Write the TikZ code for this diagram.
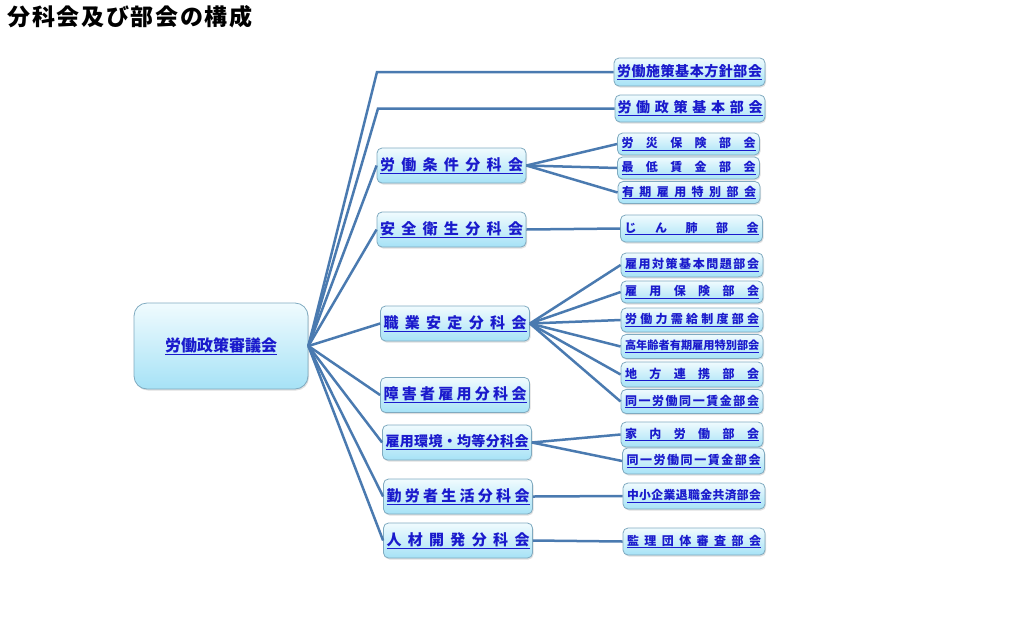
\documentclass[tikz,border=0pt]{standalone}
\usepackage{fontspec}
\setmainfont{Noto Sans CJK JP}
\usepackage{tikz}
\usetikzlibrary{positioning, shadows}
\definecolor{linkline}{RGB}{74,122,176}
\definecolor{boxline}{RGB}{127,170,192}
\definecolor{boxtop}{RGB}{240,251,254}
\definecolor{boxbottom}{RGB}{166,226,246}
\definecolor{linkblue}{RGB}{26,26,204}
\makeatletter
\newcommand{\spreadlabel}[2]{\makebox[#1][s]{\let\sp@gap\relax\@tfor\sp@ch:=#2\do{\sp@gap\sp@ch\def\sp@gap{\hfil}}}}
\makeatother
\newcommand{\bulabel}[1]{\underline{\spreadlabel{134pt}{#1}}}
\newcommand{\bunlabel}[1]{\underline{\spreadlabel{143pt}{#1}}}

\begin{document}
\begin{tikzpicture}[x=1pt, y=-1pt,
    box/.style={draw=boxline, line width=0.8pt, rounded corners=5pt, top color=boxtop, bottom color=boxbottom,
        drop shadow={opacity=0.25, shadow xshift=1pt, shadow yshift=-1.5pt}, inner sep=0pt, text=linkblue},
    root/.style={box, minimum width=174pt, minimum height=86pt, rounded corners=13pt, font=\fontsize{16}{18}\selectfont\bfseries},
    bunkakai/.style={box, minimum width=149pt, minimum height=35pt, font=\fontsize{15}{17}\selectfont\bfseries},
    bukai/.style={box, minimum width=142pt, minimum height=24pt, font=\fontsize{12}{14}\selectfont\bfseries},
    link/.style={draw=linkline, line width=2.5pt}]
            \useasboundingbox (0,0) rectangle (1024,635);

            \node [anchor=west, font=\fontsize{23}{25}\selectfont\bfseries] (title) at (4,17) {\spreadlabel{245pt}{分科会及び部会の構成}};

            % council
            \node [root] (council) at (221,346) {\underline{労働政策審議会}};

            % subcommittees
            \node [bunkakai] (jouken) at (451.5,165.5) {\bunlabel{労働条件分科会}};
            \node [bunkakai] (anzen) at (451.5,229.5) {\bunlabel{安全衛生分科会}};
            \node [bunkakai] (shokugyo) at (455,323.5) {\bunlabel{職業安定分科会}};
            \node [bunkakai] (shougai) at (455,395) {\bunlabel{障害者雇用分科会}};
            \node [bunkakai, font=\fontsize{14}{16}\selectfont\bfseries] (kankyo) at (457,442.5) {\bunlabel{雇用環境・均等分科会}};
            \node [bunkakai] (kinrou) at (458,496.5) {\bunlabel{勤労者生活分科会}};
            \node [bunkakai] (jinzai) at (458,540.5) {\bunlabel{人材開発分科会}};

            % sections
            \node [bukai, minimum width=151pt, minimum height=28pt, font=\fontsize{14}{16}\selectfont\bfseries] (shisaku) at (689.5,72) {\underline{\spreadlabel{145pt}{労働施策基本方針部会}}};
            \node [bukai, minimum width=150pt, minimum height=27pt, font=\fontsize{14}{16}\selectfont\bfseries] (seisaku) at (690,108.5) {\underline{\spreadlabel{145pt}{労働政策基本部会}}};
            \node [bukai, minimum height=22pt] (rousai) at (688.5,144) {\bulabel{労災保険部会}};
            \node [bukai, minimum height=22pt] (saitei) at (688.5,168) {\bulabel{最低賃金部会}};
            \node [bukai, minimum height=22pt] (yuuki) at (689,192.5) {\bulabel{有期雇用特別部会}};
            \node [bukai, minimum height=27pt] (jinpai) at (691.5,228.5) {\bulabel{じん肺部会}};
            \node [bukai] (taisaku) at (692,265) {\bulabel{雇用対策基本問題部会}};
            \node [bukai, minimum height=22pt] (hoken) at (692,292) {\bulabel{雇用保険部会}};
            \node [bukai] (jukyuu) at (692,320) {\bulabel{労働力需給制度部会}};
            \node [bukai, font=\fontsize{11.2}{13}\selectfont\bfseries] (kounen) at (692,346.5) {\bulabel{高年齢者有期雇用特別部会}};
            \node [bukai, minimum height=25pt] (chihou) at (692,374.5) {\bulabel{地方連携部会}};
            \node [bukai] (douitsuA) at (692,401.5) {\bulabel{同一労働同一賃金部会}};
            \node [bukai, minimum height=25pt] (kanai) at (692,434.5) {\bulabel{家内労働部会}};
            \node [bukai, minimum height=26pt] (douitsuB) at (693.5,461) {\bulabel{同一労働同一賃金部会}};
            \node [bukai, minimum height=26pt, font=\fontsize{11.8}{14}\selectfont\bfseries] (chuushou) at (694,496) {\bulabel{中小企業退職金共済部会}};
            \node [bukai, minimum height=27pt] (kanri) at (694,541.5) {\bulabel{監理団体審査部会}};

            \coordinate (bendA) at (377,72);
            \coordinate (bendB) at (378,108.5);

            \draw [link] (council.east) -- (bendA) -- (shisaku.west);
            \draw [link] (council.east) -- (bendB) -- (seisaku.west);
            \draw [link] (council.east) -- (jouken.west);
            \draw [link] (council.east) -- (anzen.west);
            \draw [link] (council.east) -- (shokugyo.west);
            \draw [link] (council.east) -- (shougai.west);
            \draw [link] (council.east) -- (kankyo.west);
            \draw [link] (council.east) -- (kinrou.west);
            \draw [link] (council.east) -- (jinzai.west);

            \draw [link] (jouken.east) -- (rousai.west);
            \draw [link] (jouken.east) -- (saitei.west);
            \draw [link] (jouken.east) -- (yuuki.west);
            \draw [link] (anzen.east) -- (jinpai.west);
            \draw [link] (shokugyo.east) -- (taisaku.west);
            \draw [link] (shokugyo.east) -- (hoken.west);
            \draw [link] (shokugyo.east) -- (jukyuu.west);
            \draw [link] (shokugyo.east) -- (kounen.west);
            \draw [link] (shokugyo.east) -- (chihou.west);
            \draw [link] (shokugyo.east) -- (douitsuA.west);
            \draw [link] (kankyo.east) -- (kanai.west);
            \draw [link] (kankyo.east) -- (douitsuB.west);
            \draw [link] (kinrou.east) -- (chuushou.west);
            \draw [link] (jinzai.east) -- (kanri.west);
        \end{tikzpicture}
\end{document}
